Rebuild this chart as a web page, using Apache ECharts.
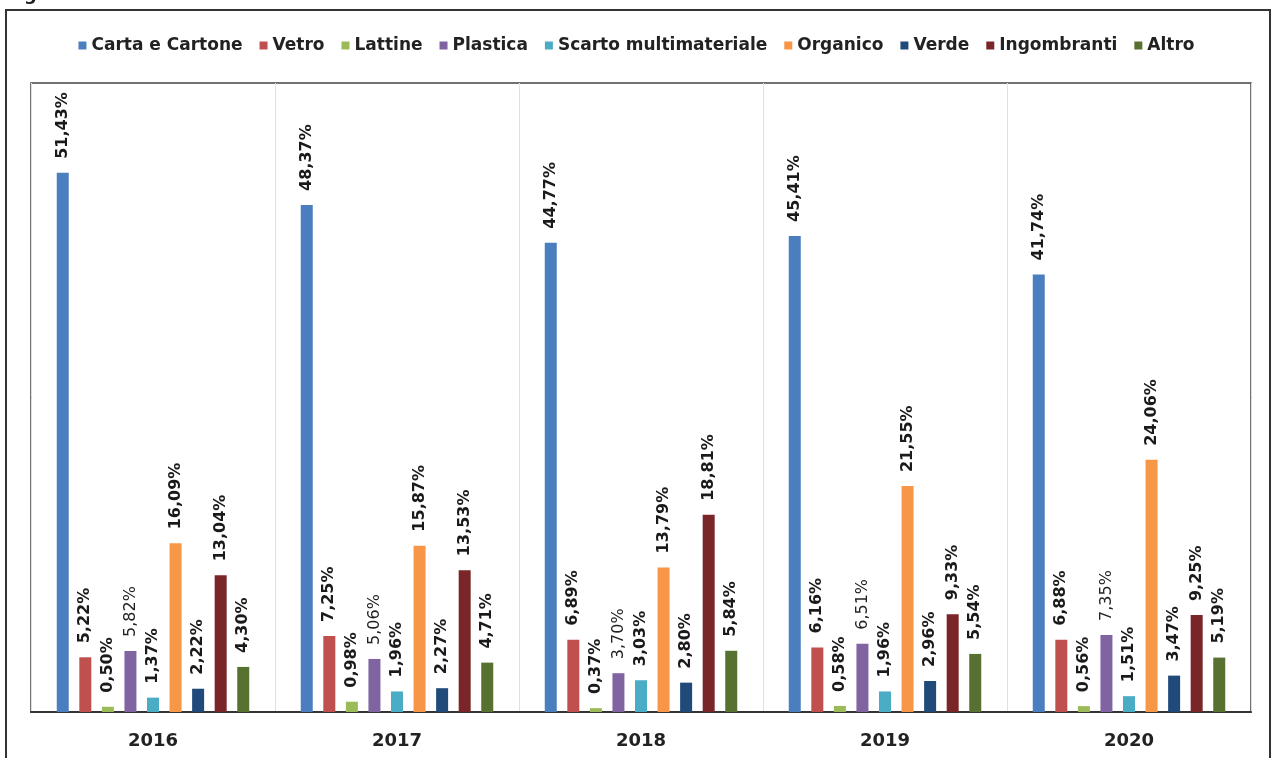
<!DOCTYPE html>
<html>
<head>
<meta charset="utf-8">
<script src="https://cdn.jsdelivr.net/npm/echarts@6/dist/echarts.min.js"></script>
<style>html,body{margin:0;padding:0;background:#fff;}#c{width:1273px;height:758px;}</style>
</head>
<body>
<div id="c"></div>
<script>
const years = ['2016', '2017', '2018', '2019', '2020'];
const seriesNames = ['Carta e Cartone', 'Vetro', 'Lattine', 'Plastica', 'Scarto multimateriale', 'Organico', 'Verde', 'Ingombranti', 'Altro'];
const cartaCartone = [51.43, 48.37, 44.77, 45.41, 41.74];
const vetro = [5.22, 7.25, 6.89, 6.16, 6.88];
const lattine = [0.50, 0.98, 0.37, 0.58, 0.56];
const plastica = [5.82, 5.06, 3.70, 6.51, 7.35];
const scartoMulti = [1.37, 1.96, 3.03, 1.96, 1.51];
const organico = [16.09, 15.87, 13.79, 21.55, 24.06];
const verde = [2.22, 2.27, 2.80, 2.96, 3.47];
const ingombranti = [13.04, 13.53, 18.81, 9.33, 9.25];
const altro = [4.30, 4.71, 5.84, 5.54, 5.19];
const colors = ['#4A7EBF', '#C0504D', '#9BBB59', '#8064A2', '#4BACC6', '#F79646', '#1F4A7A', '#7A2528', '#587030'];

const allData = [cartaCartone, vetro, lattine, plastica, scartoMulti, organico, verde, ingombranti, altro];
const FONT = 'DejaVu Sans';

const series = seriesNames.map((name, i) => ({
  name: name,
  type: 'bar',
  data: allData[i],
  barWidth: 12,
  barGap: '88%',
  itemStyle: { color: colors[i] },
  label: {
    show: true,
    position: 'top',
    rotate: 90,
    align: 'left',
    verticalAlign: 'middle',
    distance: 14,
    fontFamily: FONT,
    fontSize: 16,
    fontWeight: i === 3 ? 'normal' : 'bold',
    color: i === 3 ? '#222' : '#1a1a1a',
    formatter: p => p.value.toFixed(2).replace('.', ',') + '%'
  }
}));

const chart = echarts.init(document.getElementById('c'));
chart.setOption({
  animation: false,
  backgroundColor: '#fff',
  color: colors,
  graphic: [
    { type: 'rect', z: -1, shape: { x: 6, y: 10, width: 1264, height: 800 }, style: { fill: 'none', stroke: '#333', lineWidth: 2 } },
    { type: 'text', left: 24, top: -14, style: { text: 'g', font: 'bold 18px "DejaVu Sans"', fill: '#222' } }
  ],
  legend: {
    top: 32,
    left: 'center',
    icon: 'rect',
    itemWidth: 8,
    itemHeight: 8,
    itemGap: 17,
    textStyle: { fontFamily: FONT, fontSize: 17, fontWeight: 'bold', color: '#222' },
    data: seriesNames
  },
  grid: {
    left: 31, right: 22, top: 83, bottom: 46,
    show: true, borderColor: '#444', borderWidth: 1.5, containLabel: false
  },
  xAxis: {
    type: 'category',
    data: years,
    axisLine: { lineStyle: { color: '#333', width: 2 } },
    axisTick: { show: false },
    splitLine: { show: true, lineStyle: { color: '#e0e0e0', width: 1 } },
    axisLabel: { margin: 20, fontFamily: FONT, fontSize: 18, fontWeight: 'bold', color: '#222' }
  },
  yAxis: {
    type: 'value',
    min: 0, max: 60,
    show: false,
    splitLine: { show: false }
  },
  series: series
});
</script>
</body>
</html>
